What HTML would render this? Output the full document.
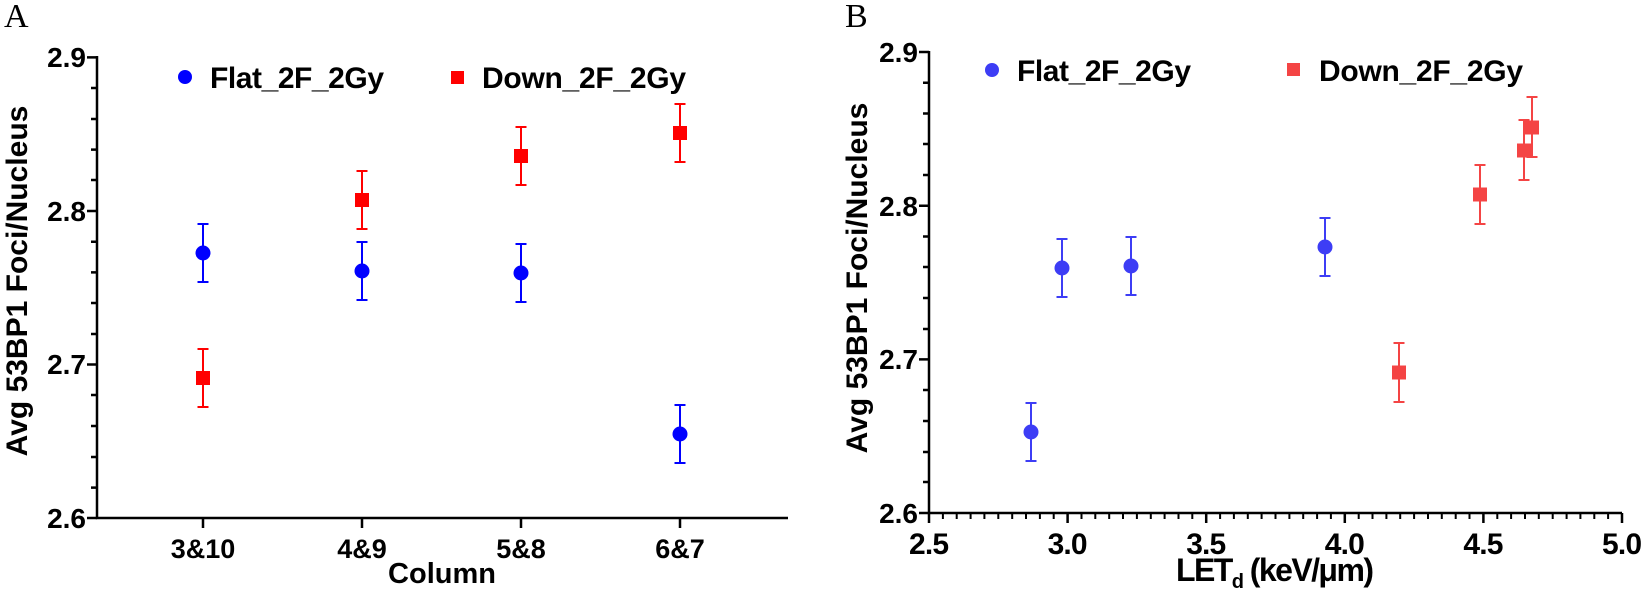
<!DOCTYPE html>
<html><head><meta charset="utf-8"><style>html,body{margin:0;padding:0;background:#fff}svg{display:block}</style></head>
<body>
<svg width="1641" height="589" viewBox="0 0 1641 589" xmlns="http://www.w3.org/2000/svg" font-family="Liberation Sans, Arial, sans-serif" font-weight="bold">
<rect width="1641" height="589" fill="#fff"/>
<text x="4" y="27" font-family="Liberation Serif, serif" font-weight="normal" font-size="34">A</text>
<text x="845" y="27" font-family="Liberation Serif, serif" font-weight="normal" font-size="34">B</text>
<g stroke="#000" stroke-width="2.5" fill="none">
<path d="M97,56 V518 H788"/>
<path d="M87,57.4 H97 M87,211 H97 M87,364.5 H97 M87,518 H97"/>
<path d="M91,88 H97 M91,119 H97 M91,149.6 H97 M91,180 H97 M91,241.7 H97 M91,272.4 H97 M91,303 H97 M91,334 H97 M91,395 H97 M91,426 H97 M91,457 H97 M91,487.6 H97"/>
<path d="M203,518 V528 M362,518 V528 M521,518 V528 M680,518 V528"/>
</g>
<g font-size="28" text-anchor="end"><text x="86" y="67">2.9</text><text x="86" y="221">2.8</text><text x="86" y="374">2.7</text><text x="86" y="528">2.6</text></g>
<g font-size="27" text-anchor="middle"><text x="203" y="558">3&amp;10</text><text x="362" y="558">4&amp;9</text><text x="521" y="558">5&amp;8</text><text x="680" y="558">6&amp;7</text>
<text x="442" y="583" font-size="29">Column</text></g>
<text transform="translate(27,281) rotate(-90)" font-size="30" text-anchor="middle">Avg 53BP1 Foci/Nucleus</text>
<circle cx="185" cy="77" r="7" fill="#0000ff"/><text x="210" y="88" font-size="30" textLength="174">Flat_2F_2Gy</text>
<rect x="451" y="71" width="13" height="13" fill="#ff0000"/><text x="482" y="88" font-size="30" textLength="204">Down_2F_2Gy</text>
<g stroke="#0000ff" stroke-width="2" fill="#0000ff">
<path d="M203,224 V282 M197.5,224 H208.5 M197.5,282 H208.5"/><circle cx="203" cy="253" r="7.5" stroke="none"/>
<path d="M362,242 V300 M356.5,242 H367.5 M356.5,300 H367.5"/><circle cx="362" cy="271" r="7.5" stroke="none"/>
<path d="M521,244 V302 M515.5,244 H526.5 M515.5,302 H526.5"/><circle cx="521" cy="273" r="7.5" stroke="none"/>
<path d="M680,405 V463 M674.5,405 H685.5 M674.5,463 H685.5"/><circle cx="680" cy="434" r="7.5" stroke="none"/>
</g>
<g stroke="#ff0000" stroke-width="2" fill="#ff0000">
<path d="M203,349 V407 M197.5,349 H208.5 M197.5,407 H208.5"/><rect x="196" y="371" width="14" height="14" stroke="none"/>
<path d="M362,171 V229 M356.5,171 H367.5 M356.5,229 H367.5"/><rect x="355" y="193" width="14" height="14" stroke="none"/>
<path d="M521,127 V185 M515.5,127 H526.5 M515.5,185 H526.5"/><rect x="514" y="149" width="14" height="14" stroke="none"/>
<path d="M680,104 V162 M674.5,104 H685.5 M674.5,162 H685.5"/><rect x="673" y="126" width="14" height="14" stroke="none"/>
</g>
<g stroke="#000" stroke-width="2.5" fill="none">
<path d="M929,51 V513 H1622"/>
<path d="M919,52 H929 M919,205.7 H929 M919,359.4 H929 M919,513 H929"/>
<path d="M923,82.7 H929 M923,113.5 H929 M923,144 H929 M923,175 H929 M923,236.5 H929 M923,267 H929 M923,298 H929 M923,329 H929 M923,390 H929 M923,421 H929 M923,452 H929 M923,482 H929"/>
<path d="M929,513 V523 M1067.6,513 V523 M1206.2,513 V523 M1344.8,513 V523 M1483.4,513 V523 M1622,513 V523"/>
<path stroke-width="2" d="M942.9,513v6M956.7,513v6M970.6,513v6M984.4,513v6M998.3,513v6M1012.2,513v6M1026,513v6M1039.9,513v6M1053.7,513v6M1081.5,513v6M1095.3,513v6M1109.2,513v6M1123,513v6M1136.9,513v6M1150.8,513v6M1164.6,513v6M1178.5,513v6M1192.3,513v6M1220.1,513v6M1233.9,513v6M1247.8,513v6M1261.6,513v6M1275.5,513v6M1289.4,513v6M1303.2,513v6M1317.1,513v6M1330.9,513v6M1358.7,513v6M1372.5,513v6M1386.4,513v6M1400.2,513v6M1414.1,513v6M1428,513v6M1441.8,513v6M1455.7,513v6M1469.5,513v6M1497.3,513v6M1511.1,513v6M1525,513v6M1538.8,513v6M1552.7,513v6M1566.6,513v6M1580.4,513v6M1594.3,513v6M1608.1,513v6"/>
</g>
<g font-size="28" text-anchor="end"><text x="918" y="62">2.9</text><text x="918" y="216">2.8</text><text x="918" y="369">2.7</text><text x="918" y="523">2.6</text></g>
<g font-size="30" text-anchor="middle"><text x="929" y="554" textLength="40">2.5</text><text x="1067.6" y="554" textLength="40">3.0</text><text x="1206.2" y="554" textLength="40">3.5</text><text x="1344.8" y="554" textLength="40">4.0</text><text x="1483.4" y="554" textLength="40">4.5</text><text x="1622" y="554" textLength="40">5.0</text></g>
<text x="1176" y="581" font-size="32" textLength="198">LET<tspan font-size="20" dy="7">d</tspan><tspan dy="-7"> (keV/μm)</tspan></text>
<text transform="translate(867,278) rotate(-90)" font-size="30" text-anchor="middle">Avg 53BP1 Foci/Nucleus</text>
<circle cx="992" cy="70" r="7" fill="#3d3df5"/><text x="1017" y="81" font-size="30" textLength="174">Flat_2F_2Gy</text>
<rect x="1287" y="63" width="13" height="13" fill="#f44444"/><text x="1319" y="81" font-size="30" textLength="204">Down_2F_2Gy</text>
<g stroke="#3d3df5" stroke-width="2" fill="#3d3df5">
<path d="M1031,403 V461 M1025.5,403 H1036.5 M1025.5,461 H1036.5"/><circle cx="1031" cy="432" r="7.5" stroke="none"/>
<path d="M1062,239 V297 M1056.5,239 H1067.5 M1056.5,297 H1067.5"/><circle cx="1062" cy="268" r="7.5" stroke="none"/>
<path d="M1131,237 V295 M1125.5,237 H1136.5 M1125.5,295 H1136.5"/><circle cx="1131" cy="266" r="7.5" stroke="none"/>
<path d="M1325,218 V276 M1319.5,218 H1330.5 M1319.5,276 H1330.5"/><circle cx="1325" cy="247" r="7.5" stroke="none"/>
</g>
<g stroke="#f44444" stroke-width="2" fill="#f44444">
<path d="M1399,343 V402 M1393.5,343 H1404.5 M1393.5,402 H1404.5"/><rect x="1392" y="365.5" width="14" height="14" stroke="none"/>
<path d="M1480,165 V224 M1474.5,165 H1485.5 M1474.5,224 H1485.5"/><rect x="1473" y="187.5" width="14" height="14" stroke="none"/>
<path d="M1524,120 V180 M1518.5,120 H1529.5 M1518.5,180 H1529.5"/><rect x="1517" y="143.5" width="14" height="14" stroke="none"/>
<path d="M1532,97 V157 M1526.5,97 H1537.5 M1526.5,157 H1537.5"/><rect x="1525" y="120.5" width="14" height="14" stroke="none"/>
</g>
</svg>
</body></html>
